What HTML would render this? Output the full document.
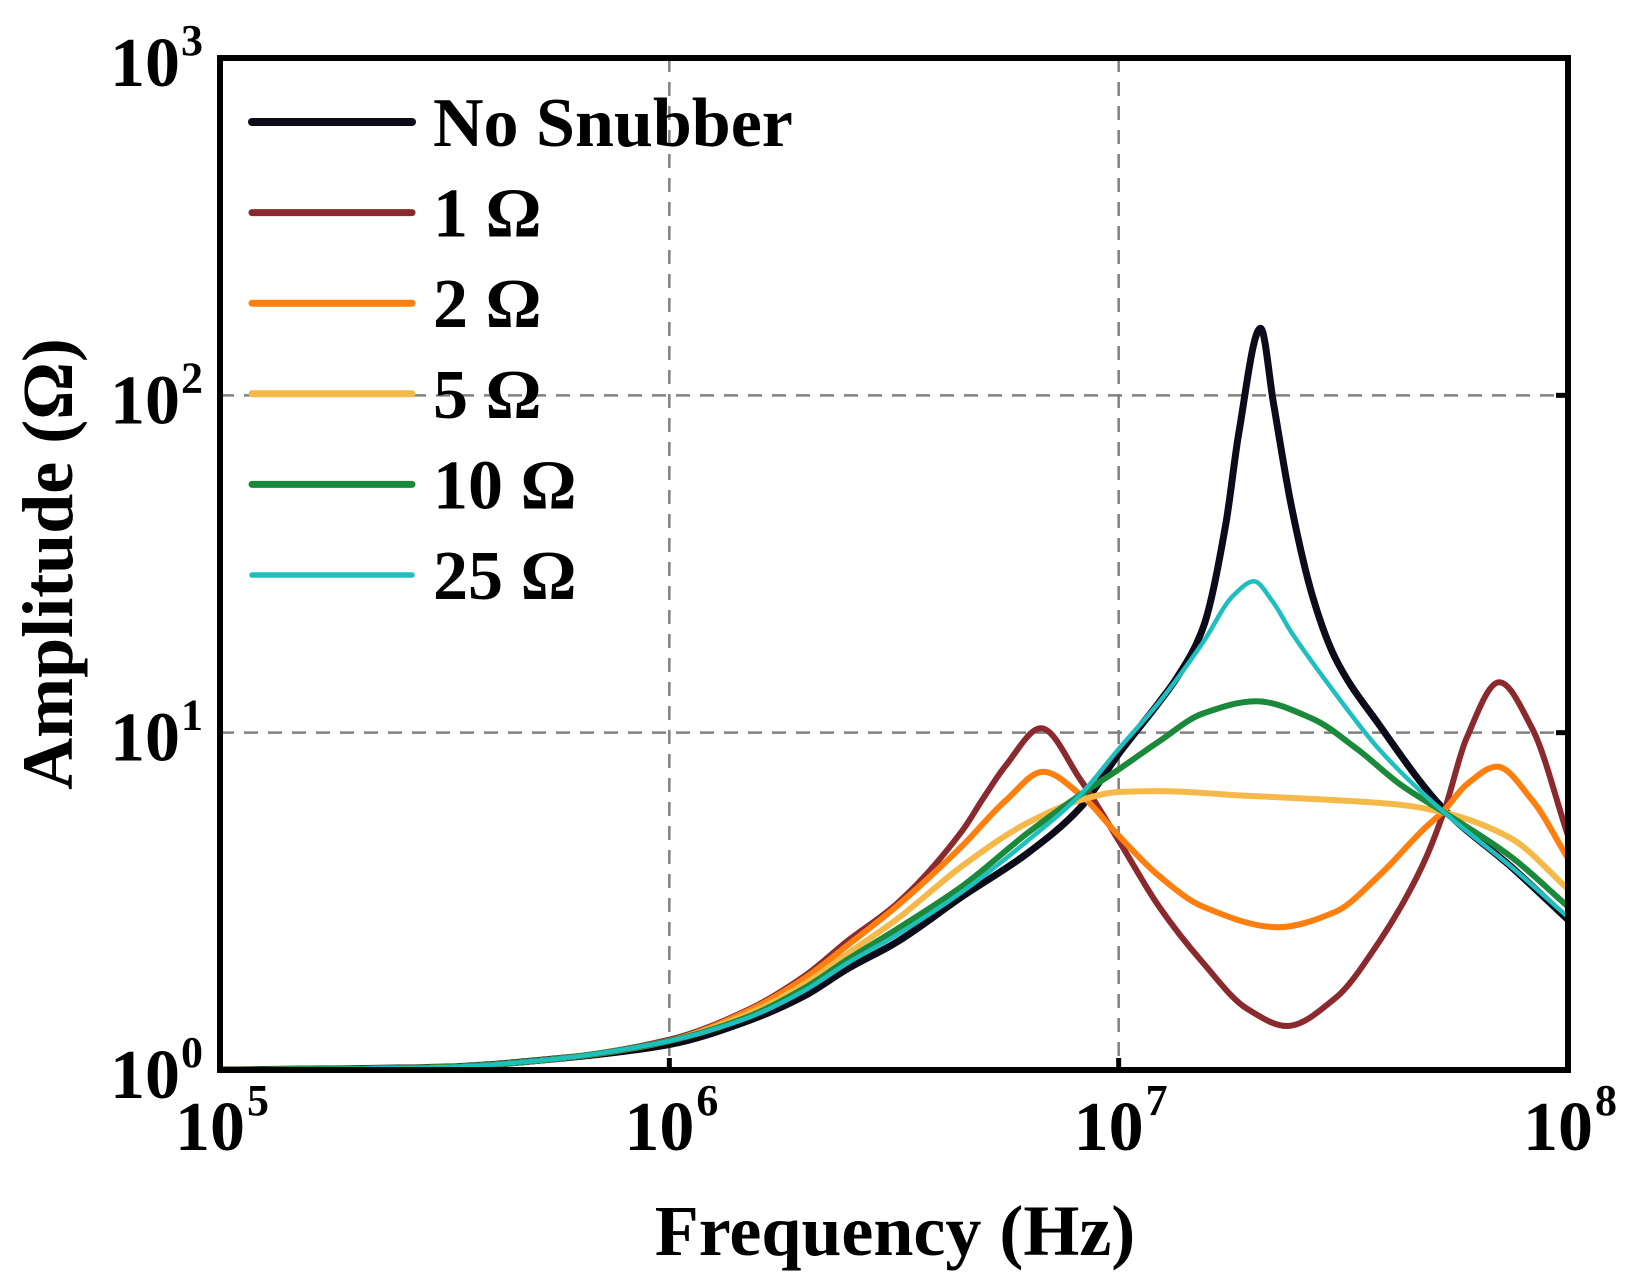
<!DOCTYPE html>
<html><head><meta charset="utf-8"><style>
html,body{margin:0;padding:0;background:#fff}
svg{display:block}
text{font-family:"Liberation Serif",serif;font-weight:bold;fill:#000}
</style></head><body>
<svg id="chart" width="1638" height="1288" viewBox="0 0 1638 1288" xmlns="http://www.w3.org/2000/svg">
<defs><clipPath id="plotClip"><rect x="220" y="58" width="1348" height="1012"/></clipPath></defs>
<g id="grid"></g>
<g id="series" clip-path="url(#plotClip)"></g>
<rect x="220" y="58" width="1348" height="1012" fill="none" stroke="#000" stroke-width="6"/>
<g id="ticks"></g>
<g id="legend"></g>
<text x="895" y="1255" font-size="72" text-anchor="middle">Frequency (Hz)</text>
<text transform="translate(72,564) rotate(-90)" font-size="72" text-anchor="middle">Amplitude (Ω)</text>
</svg>
<script>
const seriesNames = ["No Snubber","1 Ω","2 Ω","5 Ω","10 Ω","25 Ω"];
const seriesColors = ["#0b0b1a","#8b2a2e","#ff7f0e","#f5b94a","#1a8a3a","#1fbfbf"];
const seriesWidths = [7,6,6,6,6,4.5];
const xTickExps = [5,6,7,8];
const yTickExps = [0,1,2,3];
const freqBlack = [1e5,3.16e5,5.62e5,1e6,1.5e6,2e6,2.5e6,3.2e6,4.49e6,6.28e6,8.22e6,1e7,1.23e7,1.35e7,1.54e7,1.73e7,1.85e7,2.07e7,2.21e7,2.42e7,2.7e7,3.03e7,3.79e7,5.31e7,7.43e7,1e8];
const ampBlack  = [1.0,1.02,1.08,1.19,1.40,1.66,2.0,2.39,3.27,4.40,6.0,8.65,12.3,14.6,20.4,41.2,77,158,95,47.4,25.4,16.7,10.6,5.9,4.03,2.79];
const freq1 = [1e5,3.16e5,5.62e5,1e6,1.5e6,2e6,2.5e6,3.2e6,4.49e6,5.0e6,5.61e6,6.72e6,8.22e6,1e7,1.23e7,1.54e7,1.93e7,2.37e7,3.03e7,3.79e7,4.74e7,5.31e7,5.94e7,7.03e7,8.32e7,1e8];
const amp1  = [1.0,1.02,1.08,1.23,1.51,1.90,2.42,3.1,5.13,6.4,8.0,10.3,7.26,4.79,3.05,2.08,1.52,1.35,1.63,2.39,4.03,5.9,9.6,14.1,10.3,4.95];
const freq2 = [1e5,3.16e5,5.62e5,1e6,1.5e6,2e6,2.5e6,3.2e6,4.49e6,5.61e6,6.79e6,8.22e6,1e7,1.23e7,1.54e7,2.26e7,3.03e7,3.79e7,4.74e7,5.31e7,5.94e7,6.95e7,8.32e7,1e8];
const amp2  = [1.0,1.02,1.08,1.22,1.50,1.87,2.35,3.05,4.62,6.3,7.66,6.55,4.95,3.76,3.05,2.65,2.94,3.76,5.13,5.9,7.01,7.93,6.31,4.24];
const freq5 = [1e5,3.16e5,5.62e5,1e6,1.5e6,2e6,2.5e6,3.2e6,4.49e6,6.28e6,8.22e6,1e7,1.23e7,1.93e7,3.03e7,4.24e7,5.31e7,7.43e7,1e8];
const amp5  = [1.0,1.02,1.08,1.22,1.47,1.80,2.22,2.79,4.03,5.41,6.31,6.67,6.71,6.5,6.31,6.11,5.79,4.88,3.44];
const freq10 = [1e5,3.16e5,5.62e5,1e6,1.5e6,2e6,2.5e6,3.2e6,4.49e6,6.28e6,8.22e6,1e7,1.23e7,1.54e7,2.02e7,2.7e7,3.39e7,4.24e7,5.31e7,7.43e7,1e8];
const amp10  = [1.0,1.02,1.08,1.22,1.44,1.75,2.13,2.61,3.51,5.05,6.55,7.78,9.42,11.4,12.4,11.0,8.95,7.01,5.79,4.31,3.05];
const freq25 = [1e5,3.16e5,5.62e5,1e6,1.5e6,2e6,2.5e6,3.2e6,4.49e6,6.28e6,8.22e6,1e7,1.23e7,1.54e7,1.8e7,2.0e7,2.2e7,2.42e7,3.03e7,3.79e7,5.31e7,7.43e7,1e8];
const amp25  = [1.0,1.02,1.08,1.22,1.43,1.72,2.08,2.51,3.38,4.79,6.55,8.95,12.3,18.5,25.5,28.1,24.5,19.9,13.1,8.95,5.79,4.03,2.84];

const X0=220,X1=1568,Y0=1070,Y1=58;
function xScale(f){return X0+(Math.log10(f)-5)/3*(X1-X0);}
function yScale(a){return Y0-(Math.log10(a)-0)/3*(Y0-Y1);}
const NS="http://www.w3.org/2000/svg";
function mk(tag,attrs,parent){const e=document.createElementNS(NS,tag);for(const k in attrs)e.setAttribute(k,attrs[k]);parent.appendChild(e);return e;}

const grid=document.getElementById('grid');
[6,7].forEach(e=>{const x=xScale(Math.pow(10,e));
 const l=mk('line',{x1:x,x2:x,y1:Y1,y2:Y0,stroke:'#808080','stroke-width':2.5,'stroke-dasharray':'14,10'},grid);
 
 
 const t=mk('line',{x1:x,x2:x,y1:Y0-12,y2:Y0,stroke:'#000','stroke-width':5},grid);
 
 
});
[1,2].forEach(e=>{const y=yScale(Math.pow(10,e));
 const l=mk('line',{x1:X0,x2:X1,y1:y,y2:y,stroke:'#808080','stroke-width':2.5,'stroke-dasharray':'14,10'},grid);
 
 
 const t=mk('line',{x1:X1-12,x2:X1,y1:y,y2:y,stroke:'#000','stroke-width':5},grid);
 
 
});

const ticks=document.getElementById('ticks');
xTickExps.forEach(e=>{const x=xScale(Math.pow(10,e));
 const g=mk('g',{},ticks);
 
 
 const b=mk('text',{x:x+25,y:1150,'font-size':70,'text-anchor':'end'},g);b.textContent='10';
 const s=mk('text',{x:x+27,y:1115,'font-size':44},g);s.textContent=String(e);
});
yTickExps.forEach(e=>{const y=yScale(Math.pow(10,e));
 const g=mk('g',{},ticks);
 
 
 const b=mk('text',{x:180,y:y+28,'font-size':70,'text-anchor':'end'},g);b.textContent='10';
 const s=mk('text',{x:181,y:y-3,'font-size':44},g);s.textContent=String(e);
});

// monotone cubic (Fritsch-Carlson) in pixel space
function pathFor(fs,as){
 const p=fs.map((f,i)=>[xScale(f),yScale(as[i])]);
 const n=p.length, d=[], m=new Array(n);
 for(let i=0;i<n-1;i++) d.push((p[i+1][1]-p[i][1])/(p[i+1][0]-p[i][0]));
 m[0]=d[0]; m[n-1]=d[n-2];
 for(let i=1;i<n-1;i++){
  if(d[i-1]*d[i]<=0) m[i]=0;
  else { const h0=p[i][0]-p[i-1][0], h1=p[i+1][0]-p[i][0];
   const w1=2*h1+h0, w2=h1+2*h0; m[i]=(w1+w2)/(w1/d[i-1]+w2/d[i]); }
 }
 let s='M'+p[0][0].toFixed(1)+','+p[0][1].toFixed(1);
 for(let i=0;i<n-1;i++){
  const h=(p[i+1][0]-p[i][0])/3;
  s+=' C'+(p[i][0]+h).toFixed(1)+','+(p[i][1]+m[i]*h).toFixed(1)+' '+(p[i+1][0]-h).toFixed(1)+','+(p[i+1][1]-m[i+1]*h).toFixed(1)+' '+p[i+1][0].toFixed(1)+','+p[i+1][1].toFixed(1);
 }
 return s;
}
const allF=[freqBlack,freq1,freq2,freq5,freq10,freq25];
const allA=[ampBlack,amp1,amp2,amp5,amp10,amp25];
const keys=['no-snubber','1-ohm','2-ohm','5-ohm','10-ohm','25-ohm'];
const sg=document.getElementById('series');
for(let i=0;i<6;i++){
 const el=mk('path',{d:pathFor(allF[i],allA[i]),fill:'none',stroke:seriesColors[i],'stroke-width':seriesWidths[i],'stroke-linejoin':'round','stroke-linecap':'round'},sg);
 
 
}
const lg=document.getElementById('legend');
for(let i=0;i<6;i++){
 const y=122+i*90.6;
 const g=mk('g',{},lg);
 
 
 mk('line',{x1:252,x2:412,y1:y,y2:y,stroke:seriesColors[i],'stroke-width':seriesWidths[i]+1,'stroke-linecap':'round'},g);
 const t=mk('text',{x:433,y:y+24,'font-size':70},g);t.textContent=seriesNames[i];
}
</script>
</body></html>
